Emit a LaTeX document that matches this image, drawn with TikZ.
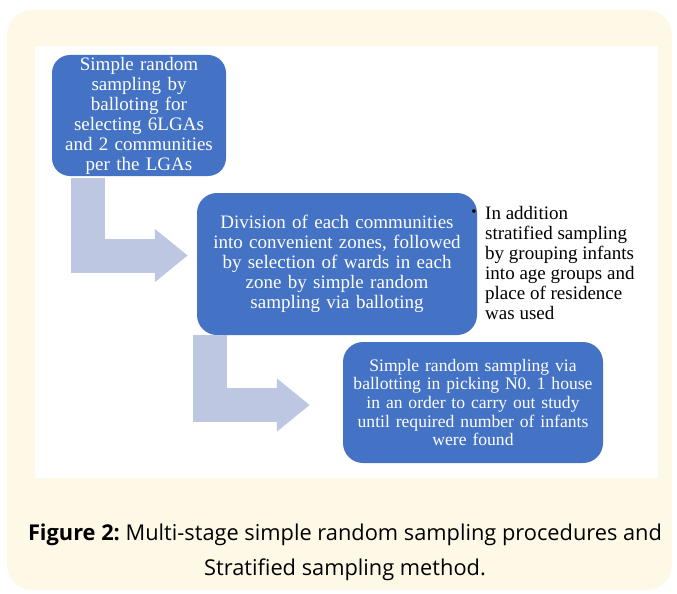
\documentclass[tikz,border=0pt]{standalone}
\usepackage{fontspec}
\setmainfont{Liberation Serif}
\newfontfamily\capfont{Open Sans}
\usepackage{xcolor}
\usetikzlibrary{arrows.meta,calc}
\definecolor{boxblue}{HTML}{4472C4}
\definecolor{arrowblue}{HTML}{BDC7E2}
\definecolor{paleyellow}{HTML}{FEF9E7}
\frenchspacing
\tikzset{stage/.style={draw=none, fill=boxblue, text=white, rounded corners=18pt,
        align=center, inner xsep=7pt, inner ysep=0pt},
    bend arrow/.style={draw=arrowblue, line width=34pt,
        -{Triangle[length=33pt,width=51pt]}}}

\begin{document}
\begin{tikzpicture}[x=1pt, y=-1pt]
    \useasboundingbox (0,0) rectangle (677,594);
    \fill[paleyellow, rounded corners=25pt] (7,10) rectangle (672,590);
    \fill[white] (35,46) rectangle (658,478);
    % the three stages
    \node[stage, text width=160pt, minimum height=121pt,
        font=\fontsize{19}{20}\selectfont] (lga) at (139,115.5)
        {Simple random\\ sampling by\\ balloting for\\ selecting 6LGAs\\
        and 2 communities\\ per the LGAs};
    \node[stage, text width=266pt, minimum height=142pt, rounded corners=20pt,
        font=\fontsize{19}{20}\selectfont] (zones) at (337,264)
        {Division of each communities\\ into convenient zones, followed\\
        by selection of wards in each\\ zone by simple random\\
        sampling via balloting};
    \node[stage, text width=246pt, minimum height=121pt, rounded corners=20pt,
        font=\fontsize{17.6}{18.6}\selectfont] (house) at (473,402.5)
        {Simple random sampling via\\ ballotting in picking N0. 1 house\\
        in an order to carry out study\\ until required number of infants\\
        were found};
    % side note
    \node[anchor=north west, align=left, inner sep=0pt,
        font=\fontsize{19}{20}\selectfont] (note) at (485,206)
        {In addition\\ stratified sampling\\ by grouping infants\\
        into age groups and\\ place of residence\\ was used};
    \node[inner sep=0pt, font=\fontsize{15}{15}\selectfont] (dot) at (474,213) {\textbullet};
    % arrows
    \draw[bend arrow] ($(lga.south west)+(36,2)$) |- ($(zones.west)+(-9,-8.5)$);
    \draw[bend arrow] ($(zones.south west)+(13,0)$) |- ($(house.west)+(-33,2.5)$);
    % caption
    \node[align=center, font=\capfont\fontsize{21.8}{35}\selectfont] (caption) at (345,552)
        {\textbf{Figure 2:} Multi-stage simple random sampling procedures and\\
        Stratified sampling method.};
\end{tikzpicture}
\end{document}
